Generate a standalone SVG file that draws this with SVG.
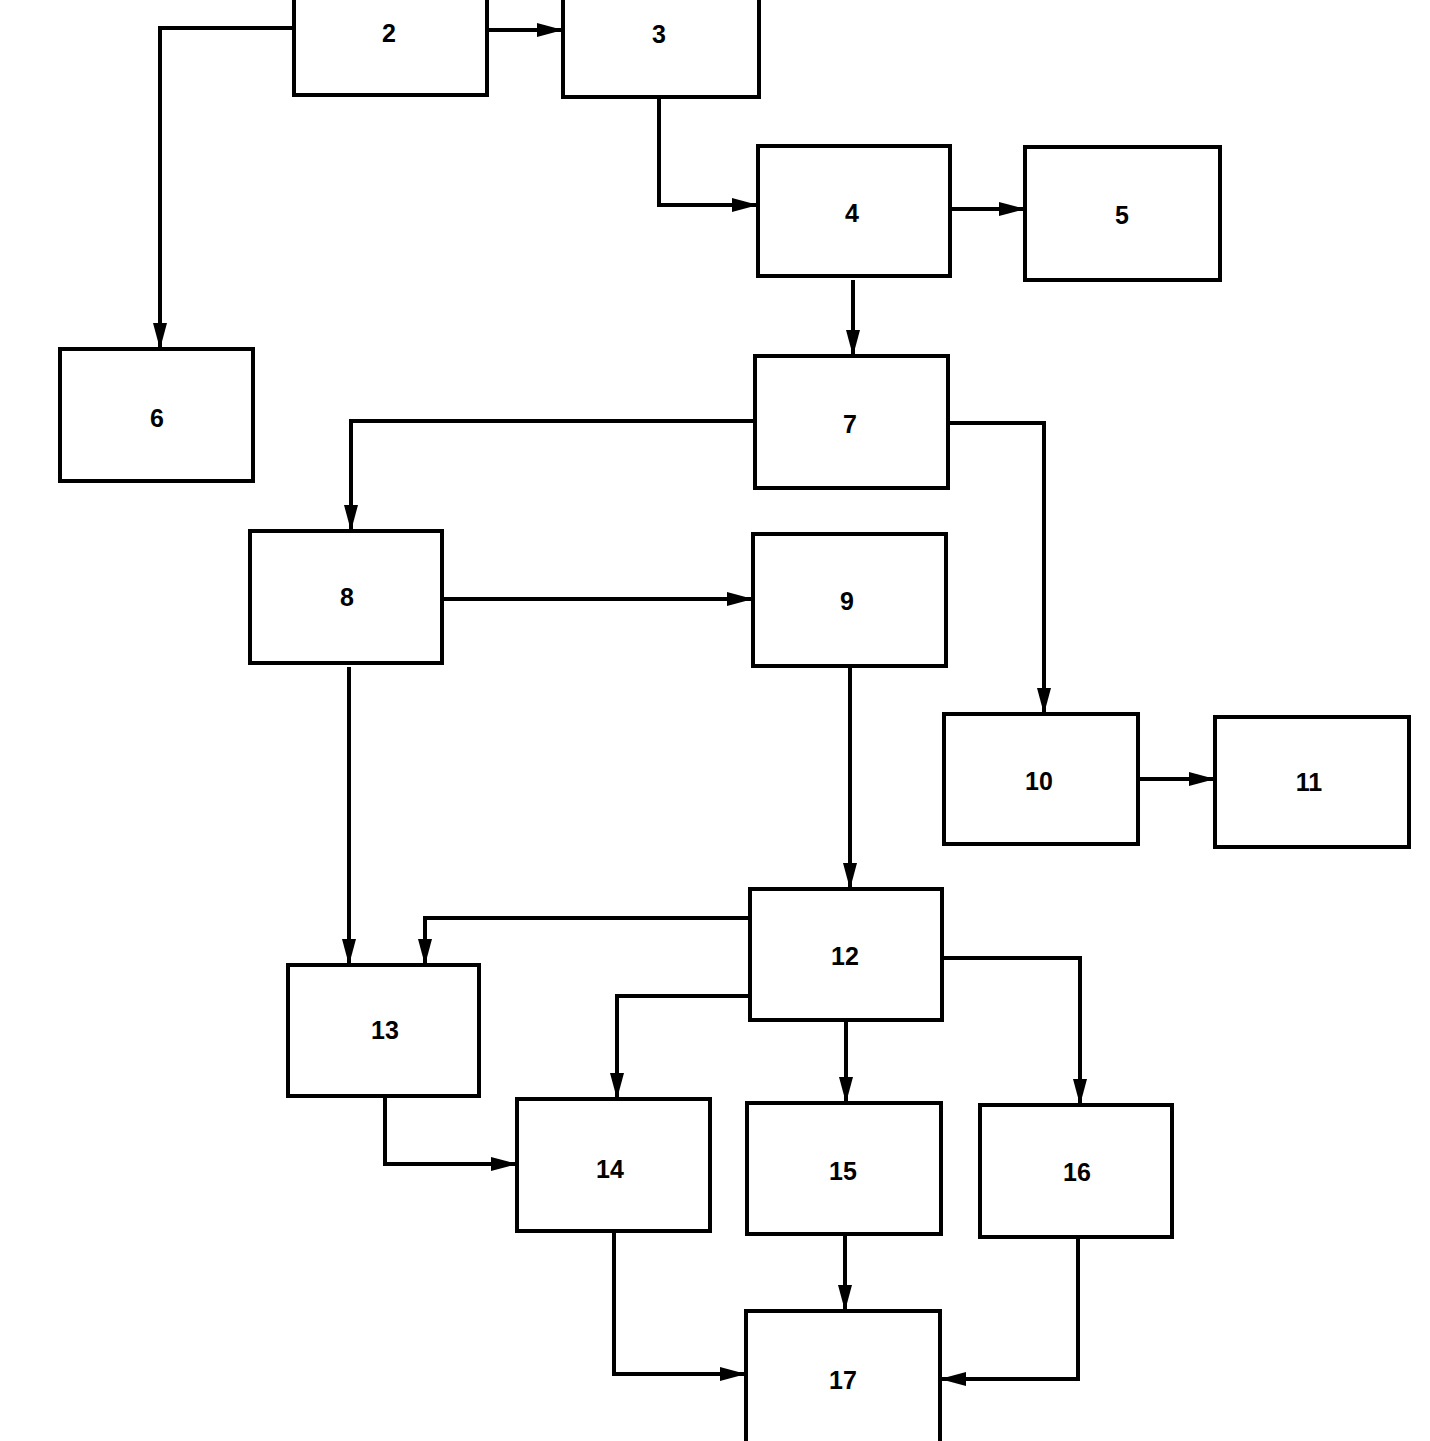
<svg xmlns="http://www.w3.org/2000/svg" width="1430" height="1441" viewBox="0 0 1430 1441">
<style>
rect{fill:#fff;stroke:#000;stroke-width:4}
text{font-family:"Liberation Sans",Arial,sans-serif;font-weight:bold;font-size:25px;text-anchor:middle;dominant-baseline:central;fill:#000}
.c path{fill:none;stroke:#000;stroke-width:4;marker-end:url(#a)}
</style>
<defs><marker id="a" markerUnits="userSpaceOnUse" markerWidth="28" markerHeight="18" refX="26" refY="9" orient="auto"><path d="M0,2 L26,9 L0,16 Z" fill="#000"/></marker></defs>
<rect x="0" y="0" width="1430" height="1441" style="stroke:none"/>
<g class="c" id="connectors">
<path d="M487,30 H563"/>
<path d="M294,28 H160 V349"/>
<path d="M659,97 V205 H758"/>
<path d="M950,209 H1025"/>
<path d="M853,280 V356"/>
<path d="M755,421 H351 V531"/>
<path d="M948,423 H1044 V714"/>
<path d="M442,599 H753"/>
<path d="M349,667 V965"/>
<path d="M850,668 V889"/>
<path d="M750,918 H425 V965"/>
<path d="M750,996 H617 V1099"/>
<path d="M846,1020 V1103"/>
<path d="M942,958 H1080 V1105"/>
<path d="M385,1096 V1164 H517"/>
<path d="M614,1231 V1374 H746"/>
<path d="M845,1234 V1311"/>
<path d="M1078,1237 V1379 H940"/>
<path d="M1138,779 H1215"/>
</g>
<g id="n2"><rect x="294" y="-5" width="193" height="100"/><text x="389" y="33">2</text></g>
<g id="n3"><rect x="563" y="-5" width="196" height="102"/><text x="659" y="34">3</text></g>
<g id="n4"><rect x="758" y="146" width="192" height="130"/><text x="852" y="213">4</text></g>
<g id="n5"><rect x="1025" y="147" width="195" height="133"/><text x="1122" y="215">5</text></g>
<g id="n6"><rect x="60" y="349" width="193" height="132"/><text x="157" y="418">6</text></g>
<g id="n7"><rect x="755" y="356" width="193" height="132"/><text x="850" y="424">7</text></g>
<g id="n8"><rect x="250" y="531" width="192" height="132"/><text x="347" y="597">8</text></g>
<g id="n9"><rect x="753" y="534" width="193" height="132"/><text x="847" y="601">9</text></g>
<g id="n10"><rect x="944" y="714" width="194" height="130"/><text x="1039" y="781">10</text></g>
<g id="n11"><rect x="1215" y="717" width="194" height="130"/><text x="1309" y="782">11</text></g>
<g id="n12"><rect x="750" y="889" width="192" height="131"/><text x="845" y="956">12</text></g>
<g id="n13"><rect x="288" y="965" width="191" height="131"/><text x="385" y="1030">13</text></g>
<g id="n14"><rect x="517" y="1099" width="193" height="132"/><text x="610" y="1169">14</text></g>
<g id="n15"><rect x="747" y="1103" width="194" height="131"/><text x="843" y="1171">15</text></g>
<g id="n16"><rect x="980" y="1105" width="192" height="132"/><text x="1077" y="1172">16</text></g>
<g id="n17"><rect x="746" y="1311" width="194" height="139"/><text x="843" y="1380">17</text></g>
</svg>
